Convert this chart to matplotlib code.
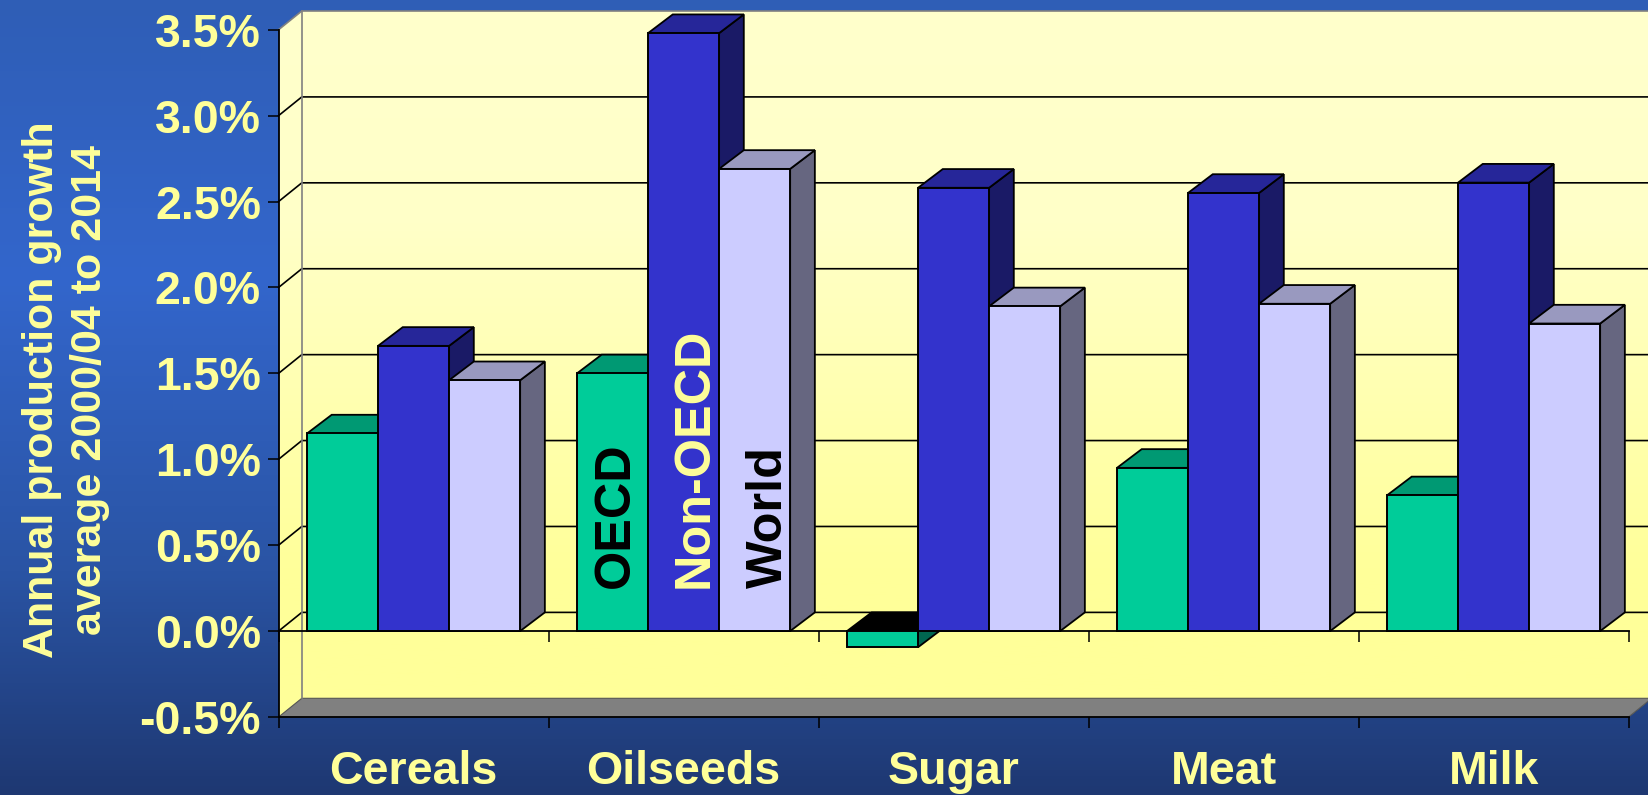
import numpy as np
import matplotlib
matplotlib.use('Agg')
import matplotlib.pyplot as plt
from matplotlib.colors import LinearSegmentedColormap
from matplotlib.patches import Polygon

categories = ['Cereals', 'Oilseeds', 'Sugar', 'Meat', 'Milk']
oecd = [1.15, 1.50, -0.094, 0.95, 0.79]
non_oecd = [1.66, 3.48, 2.58, 2.55, 2.61]
world = [1.46, 2.69, 1.89, 1.905, 1.79]
y_ticks = [-0.5, 0.0, 0.5, 1.0, 1.5, 2.0, 2.5, 3.0, 3.5]
y_tick_labels = ['-0.5%', '0.0%', '0.5%', '1.0%', '1.5%', '2.0%', '2.5%', '3.0%', '3.5%']

plt.rcParams['font.family'] = ['Liberation Sans', 'DejaVu Sans']
plt.rcParams['font.weight'] = 'bold'

W, H = 1648, 795
YELLOW = '#FFFF99'
FRONT = ['#00CC99', '#3333CC', '#CCCCFF']
TOP = ['#009973', '#262699', '#9999BF']
SIDE = ['#006650', '#1A1A66', '#666680']

fig = plt.figure(figsize=(W / 100, H / 100), dpi=100)

# slide background
bg = fig.add_axes([0, 0, 1, 1], zorder=-1)
bg_cmap = LinearSegmentedColormap.from_list('bg', [(0, '#2F5EB6'), (0.35, '#3366CC'),
                                                   (0.72, '#2A54A4'), (1, '#1E3872')])
bg.imshow(np.linspace(0, 1, 256).reshape(-1, 1), cmap=bg_cmap, aspect='auto')
bg.axis('off')

# plot area, front of the box in pixels: x 278.6-1628.6, y 29.7-717
ax = fig.add_axes([278.6 / W, (H - 717) / H, 1350 / W, 687.3 / H])
ax.patch.set_visible(False)

px_x = 5 / 1350
px_y = 4 / 687.3
wall_dx = 23.2 * px_x
bar_dx = 24.7 * px_x
dy = 18.7 * px_y

# walls
wall_cmap = LinearSegmentedColormap.from_list('wall', [(0, '#FFFFCC'), (0.3, '#FFFFC8'),
                                                       (0.8, '#FFFF99'), (1, '#FFFF99')])
wall_img = ax.imshow(np.linspace(0, 1, 256).reshape(-1, 1), cmap=wall_cmap, aspect='auto',
                     extent=[0, 5 + wall_dx, -0.5, 3.5 + dy], zorder=0)
wall_shape = Polygon([(0, -0.5), (5, -0.5), (5 + wall_dx, -0.5 + dy), (5 + wall_dx, 3.5 + dy),
                      (wall_dx, 3.5 + dy), (0, 3.5)], transform=ax.transData,
                     fill=False, edgecolor='none', clip_on=False)
ax.add_patch(wall_shape)
wall_img.set_clip_box(fig.bbox)
wall_img.set_clip_path(wall_shape)
ax.set_xlim(0, 5)
ax.set_ylim(-0.5, 3.5)

# floor slab
ax.add_patch(Polygon([(0, -0.5), (5, -0.5), (5 + wall_dx, -0.5 + dy), (wall_dx, -0.5 + dy)],
                     facecolor='#808080', edgecolor='#555555', lw=0.8, zorder=1, clip_on=False))

# gridlines on back and left wall
for y in y_ticks[1:]:
    col = '#808080' if y == 3.5 else 'black'
    ax.plot([0, wall_dx, 5 + wall_dx], [y, y + dy, y + dy], color=col, lw=1.2, zorder=1,
            clip_on=False, solid_joinstyle='miter')
ax.plot([wall_dx, wall_dx], [-0.5 + dy, 3.5 + dy], color='#808080', lw=1.2, zorder=1, clip_on=False)

# front zero line and its ticks
ax.plot([0, 5], [0, 0], color='black', lw=1.3, zorder=1.5, clip_on=False)
ax.vlines(range(6), -11 * px_y, 0, color='black', lw=1.1, zorder=1.5, clip_on=False)

# bars, left to right so each one hides the side of the one before
bar_w = 71.05 * px_x
gap = 28.4 * px_x
z = 2
for i in range(len(categories)):
    for j, series in enumerate([oecd, non_oecd, world]):
        v = series[i]
        x0 = i + gap + j * bar_w
        x1 = x0 + bar_w
        top_y = max(v, 0)
        top_col = 'black' if v < 0 else TOP[j]
        ax.add_patch(Polygon([(x1, 0), (x1, v), (x1 + bar_dx, v + dy), (x1 + bar_dx, dy)],
                             facecolor=SIDE[j], edgecolor='black', lw=1.3, zorder=z, clip_on=False,
                             joinstyle='miter'))
        ax.add_patch(Polygon([(x0, top_y), (x1, top_y), (x1 + bar_dx, top_y + dy), (x0 + bar_dx, top_y + dy)],
                             facecolor=top_col, edgecolor='black', lw=1.3, zorder=z, clip_on=False,
                             joinstyle='miter'))
        ax.bar(x0, v, bar_w, align='edge', color=FRONT[j], edgecolor='black', lw=1.4, zorder=z + 0.5,
               clip_on=False)
        z += 1

# series names written on the oilseed bars
names = ['OECD', 'Non-OECD', 'World']
name_cols = ['black', YELLOW, 'black']
name_shift = [3, 11.5, 14.7]
for j, name in enumerate(names):
    ax.text(1 + gap + (j + 0.5) * bar_w + name_shift[j] * px_x, 0.25, name, rotation=90,
            ha='center', va='bottom', fontsize=36.3, color=name_cols[j], fontweight='bold', zorder=100)

# axes
for s in ['top', 'right']:
    ax.spines[s].set_visible(False)
for s in ['left', 'bottom']:
    ax.spines[s].set_linewidth(1.3)
    ax.spines[s].set_zorder(1.6)

ax.set_yticks(y_ticks)
ax.set_yticklabels(y_tick_labels, fontsize=33.5, color=YELLOW, fontweight='bold')
ax.tick_params(axis='y', length=7.7, width=1.1, pad=5)
ax.set_xticks(range(6))
ax.set_xticklabels([])
ax.tick_params(axis='x', which='major', length=8, width=1.1)
ax.set_xticks(np.arange(5) + 0.5, minor=True)
ax.set_xticklabels(categories, minor=True, fontsize=33.5, color=YELLOW, fontweight='bold')
ax.tick_params(axis='x', which='minor', length=0, pad=24)

fig.text(66 / W, 1 - 390 / H, 'Annual production growth\naverage 2000/04 to 2014', rotation=90,
         ha='center', va='center', ma='center', fontsize=31, color=YELLOW, fontweight='bold',
         linespacing=1.29)

fig.savefig('out.png', dpi=100)
